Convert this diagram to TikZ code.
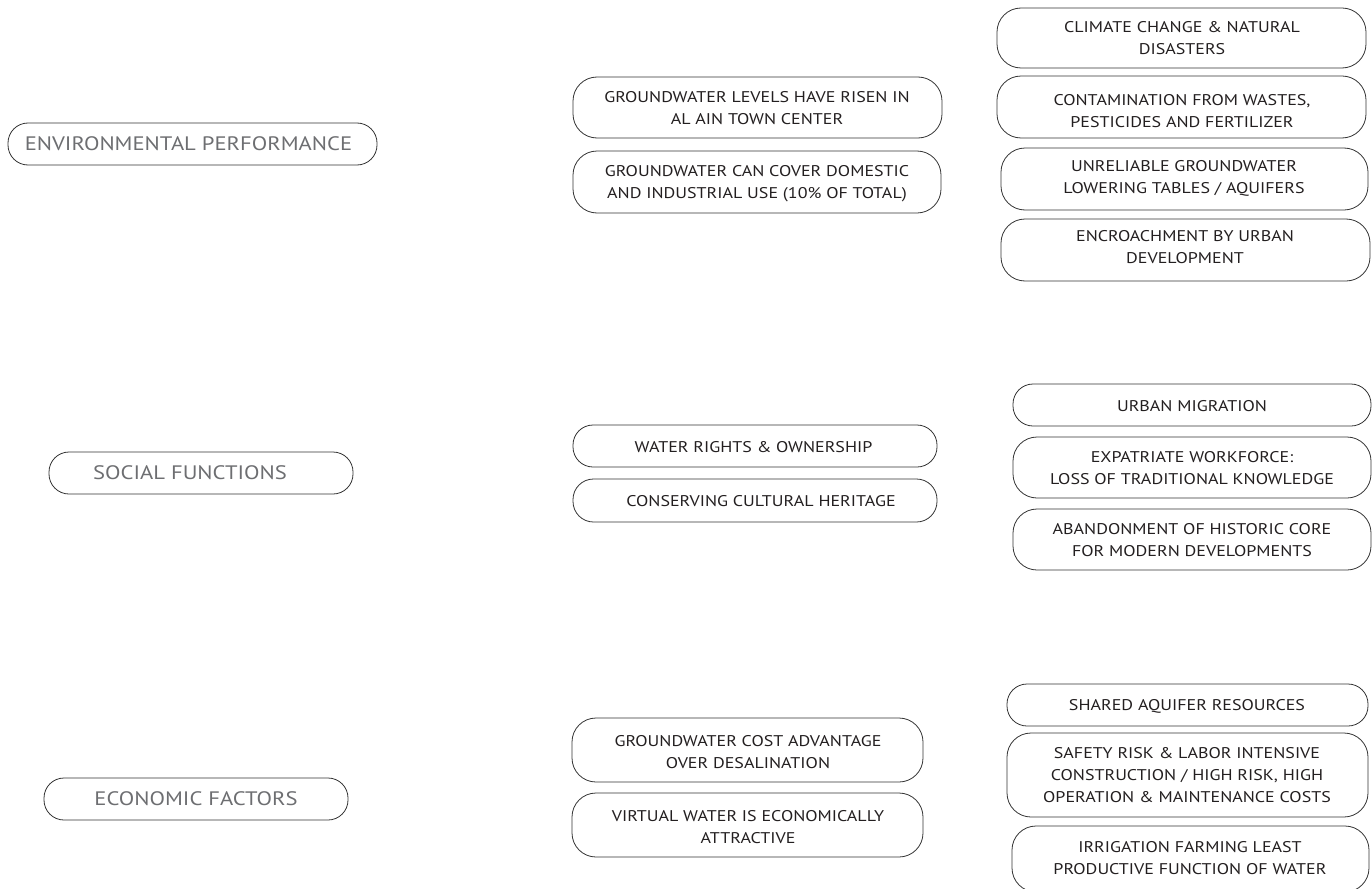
\documentclass[tikz,border=0pt]{standalone}
\usepackage{fontspec}
\setmainfont{PT Sans}[FakeStretch=1.16]
\definecolor{lineC}{HTML}{333333}
\definecolor{txtC}{HTML}{231F20}
\definecolor{greyC}{HTML}{6D6E71}
\tikzset{
  pill/.style={draw=lineC, line width=0.8pt, inner sep=0pt, fill=none},
  itemtxt/.style={text=txtC, align=center, inner sep=0pt, font=\fontsize{15.5}{22}\selectfont},
  headtxt/.style={text=greyC, align=center, inner sep=0pt, font=\fontsize{19.5}{24}\selectfont},
}
% #1 name, #2 x1, #3 y1, #4 x2, #5 y2
\newcommand{\pillbox}[5]{%
  \pgfmathsetmacro{\pw}{#4-#2}\pgfmathsetmacro{\ph}{#5-#3}%
  \pgfmathsetmacro{\pcx}{(#2+#4)/2}\pgfmathsetmacro{\pcy}{(#3+#5)/2}%
  \pgfmathsetmacro{\prad}{min(24,\ph/2-1)}%
  \node[pill, rounded corners=\prad pt, minimum width=\pw pt, minimum height=\ph pt] (#1) at (\pcx,\pcy) {};}
\begin{document}
\begin{tikzpicture}[x=1pt,y=-1pt]
\useasboundingbox (0,0) rectangle (1372,888);
% left column
\pillbox{env}{8}{123}{377}{165}
\node[headtxt] (env-t) at (188.5,144) {ENVIRONMENTAL PERFORMANCE};
\pillbox{soc}{49}{452}{353}{494}
\node[headtxt] (soc-t) at (190,473) {SOCIAL FUNCTIONS};
\pillbox{eco}{44}{778}{348}{820}
\node[headtxt] (eco-t) at (196,799) {ECONOMIC FACTORS};
% middle column
\pillbox{m1}{573}{77}{942}{138}
\node[itemtxt] (m1-t) at (757,108.5) {GROUNDWATER LEVELS HAVE RISEN IN\\AL AIN TOWN CENTER};
\pillbox{m2}{573}{151}{941}{213}
\node[itemtxt] (m2-t) at (757,184) {GROUNDWATER CAN COVER DOMESTIC\\AND INDUSTRIAL USE (10\% OF TOTAL)};
\pillbox{m3}{573}{425}{937}{467}
\node[itemtxt] (m3-t) at (753.5,447) {WATER RIGHTS \& OWNERSHIP};
\pillbox{m4}{573}{479}{937}{522}
\node[itemtxt] (m4-t) at (761,501) {CONSERVING CULTURAL HERITAGE};
\pillbox{m5}{572}{718}{923}{782}
\node[itemtxt] (m5-t) at (748,752) {GROUNDWATER COST ADVANTAGE\\OVER DESALINATION};
\pillbox{m6}{572}{793}{923}{857}
\node[itemtxt] (m6-t) at (748,827) {VIRTUAL WATER IS ECONOMICALLY\\ATTRACTIVE};
% right column
\pillbox{r1}{997}{8}{1366}{68}
\node[itemtxt] (r1-t) at (1182,38.5) {CLIMATE CHANGE \& NATURAL\\DISASTERS};
\pillbox{r2}{997}{76}{1366}{138}
\node[itemtxt] (r2-t) at (1182,111) {CONTAMINATION FROM WASTES,\\PESTICIDES AND FERTILIZER};
\pillbox{r3}{1001}{148}{1368}{210}
\node[itemtxt] (r3-t) at (1184,178) {UNRELIABLE GROUNDWATER\\LOWERING TABLES / AQUIFERS};
\pillbox{r4}{1001}{219}{1370}{281}
\node[itemtxt] (r4-t) at (1185,247.5) {ENCROACHMENT BY URBAN\\DEVELOPMENT};
\pillbox{r5}{1013}{384}{1371}{426}
\node[itemtxt] (r5-t) at (1192,406) {URBAN MIGRATION};
\pillbox{r6}{1013}{437}{1371}{498}
\node[itemtxt] (r6-t) at (1192,468.5) {EXPATRIATE WORKFORCE:\\LOSS OF TRADITIONAL KNOWLEDGE};
\pillbox{r7}{1013}{509}{1371}{570}
\node[itemtxt] (r7-t) at (1192,540) {ABANDONMENT OF HISTORIC CORE\\FOR MODERN DEVELOPMENTS};
\pillbox{r8}{1007}{684}{1368}{726}
\node[itemtxt] (r8-t) at (1187,706) {SHARED AQUIFER RESOURCES};
\pillbox{r9}{1007}{733}{1368}{817}
\node[itemtxt] (r9-t) at (1187,775.5) {SAFETY RISK \& LABOR INTENSIVE\\CONSTRUCTION / HIGH RISK, HIGH\\OPERATION \& MAINTENANCE COSTS};
\pillbox{r10}{1012}{826}{1369}{892}
\node[itemtxt] (r10-t) at (1190,858.5) {IRRIGATION FARMING LEAST\\PRODUCTIVE FUNCTION OF WATER};
\end{tikzpicture}
\end{document}
